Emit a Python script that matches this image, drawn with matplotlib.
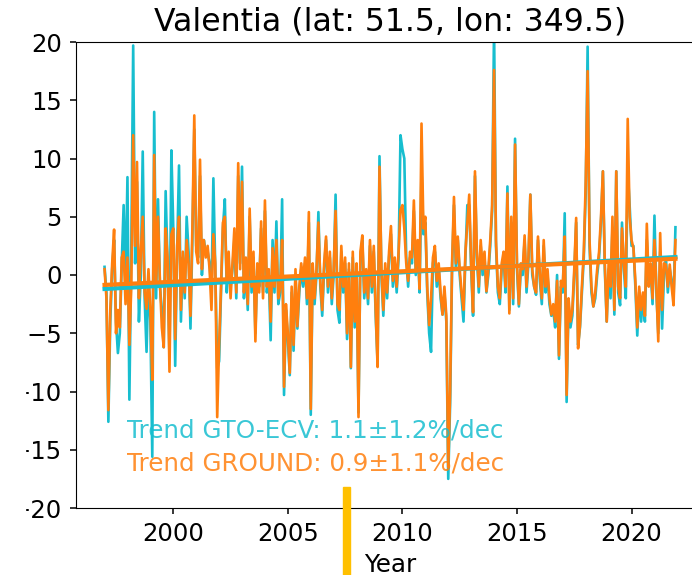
import numpy as np
import matplotlib
matplotlib.use("Agg")
import matplotlib.pyplot as plt
from matplotlib.patches import Rectangle

# monthly anomalies (%), Jan 1997 - Dec 2021, one row per year
ground = [
    0.5, -2.0, -11.6, -3.0, 1.0, 3.9, -5.0, -3.0, -4.5, 1.5, 2.0, -2.5,      # 1997
    1.5, -6.0, -1.0, 12.0, 2.5, 9.7, -2.0, 2.0, 5.0, -1.5, -2.9, 0.5,       # 1998
    -3.0, -9.0, 10.3, -1.0, 5.0, -0.5, -4.5, -6.2, 4.0, 1.5, -8.3, 3.5,     # 1999
    4.0, -5.5, 2.5, 5.0, -3.0, 2.0, -1.5, 3.0, 1.0, -3.5, 4.0, 13.7,        # 2000
    2.0, 1.0, 9.9, 0.5, 3.0, 1.5, 2.5, 0.5, -3.0, 3.5, 1.0, -12.2,          # 2001
    -6.0, -1.0, 4.5, 5.0, -0.5, 2.0, -2.0, 1.0, 4.0, -1.5, 9.6, 0.5,        # 2002
    8.0, -1.5, 1.5, -2.5, 5.7, -1.0, 2.0, -5.7, 1.0, -1.5, 4.6, -2.0,       # 2003
    6.4, -1.0, 0.5, -4.0, 2.3, -1.0, 3.0, -2.0, -1.0, 3.0, -9.6, -2.5,      # 2004
    -5.0, -8.4, -1.0, -6.0, 0.5, -4.4, -1.0, 1.0, -0.5, 1.5, -2.0, 5.4,     # 2005
    -11.5, 1.0, -2.0, 0.5, 4.5, -0.5, -3.0, 1.0, 3.3, -1.0, 2.0, -2.0,      # 2006
    0.5, 5.5, -2.5, -3.0, 2.5, -1.0, 1.5, -5.0, 1.0, -7.9, 2.0, -4.0,       # 2007
    1.0, -12.2, 2.0, 3.4, -1.5, 0.5, -2.0, 3.0, -1.0, 2.5, -3.0, -7.9,      # 2008
    9.3, 0.5, -3.0, 1.0, -1.5, 2.0, 4.2, -0.5, 1.5, -1.0, 2.0, 5.6,         # 2009
    6.0, 4.0, 1.0, -0.5, 2.0, 1.5, 6.4, 0.5, 3.0, -1.2, 13.0, 4.0,          # 2010
    5.0, -1.0, -4.3, -2.0, 1.5, 2.5, -0.5, 1.0, -1.5, -3.4, -1.0, -3.5,     # 2011
    -16.5, -10.0, 1.0, 6.7, 1.0, 3.3, 0.5, -1.5, -3.0, 2.0, 4.5, 6.9,       # 2012
    1.0, -3.2, 8.9, 2.0, -1.0, 3.0, 0.5, 2.0, -1.4, 0.5, 3.0, 6.0,          # 2013
    17.6, 3.0, -1.0, -2.0, 1.0, 2.0, -1.0, 7.0, -3.3, 5.0, -2.0, 11.2,      # 2014
    1.0, -2.5, 1.0, 0.5, 3.4, -1.0, 1.5, 6.9, 0.5, -1.0, -1.5, 3.3,         # 2015
    0.0, -2.0, 3.0, -1.0, 0.5, -2.0, -3.4, -2.5, -4.0, -0.5, -6.9, -0.5,    # 2016
    -1.0, 3.3, -10.3, -2.0, -4.0, -3.0, 0.5, 4.9, -6.3, -4.3, -1.0, 2.0,    # 2017
    8.0, 17.5, 3.0, -1.0, -2.7, -1.5, 0.5, 2.0, 5.0, 8.9, 1.0, -4.0,        # 2018
    1.0, -1.0, 5.0, -3.0, 8.9, -1.0, -2.0, 4.0, 1.0, -1.0, 13.4, 5.0,       # 2019
    3.0, 2.3, -0.5, -4.5, -1.0, -3.0, -1.5, -3.5, 4.4, -1.0, 1.0, -2.0,     # 2020
    3.0, -1.0, -5.7, 3.6, -3.0, 1.0, 0.9, -1.0, 0.9, -1.0, -2.6, 3.0,       # 2021
]
gto_ecv = [
    0.7, -1.5, -12.6, -4.0, 0.5, 3.0, -4.0, -6.7, -5.0, 1.0, 6.0, -1.0,
    8.4, -10.7, 2.0, 19.7, 1.0, 8.0, -4.0, 0.0, 10.6, -2.0, -6.6, 0.0,
    -4.0, -15.6, 14.0, -2.0, 6.5, -1.0, -3.0, -6.2, 7.2, 1.0, -7.0, 10.7,
    4.0, -7.8, 2.0, 9.4, -4.0, 1.5, -2.0, 5.0, 2.0, -4.6, 3.0, 12.5,
    2.5, 1.5, 8.5, 0.0, 3.0, 2.0, 2.0, 1.0, -1.5, 8.3, 0.5, -8.0,
    -7.4, -1.5, 4.0, 6.5, -1.5, 1.0, -1.0, 0.5, 3.0, -2.0, 8.5, 1.0,
    9.3, -2.0, 1.0, -3.0, 5.0, -1.5, 1.5, -5.0, 0.5, -1.0, 4.0, -1.5,
    5.5, -1.5, 0.0, -5.6, 3.0, -1.5, 4.6, -2.5, -1.5, 6.5, -10.3, -3.0,
    -5.5, -8.6, -1.5, -6.5, 0.0, -4.6, -1.5, 0.5, -1.0, 1.0, -2.5, 4.5,
    -12.0, 0.5, -2.5, 0.0, 5.4, -1.0, -3.5, 0.5, 3.0, -1.5, 1.5, -2.5,
    0.0, 6.9, -3.0, -4.1, 2.0, -1.5, 1.0, -5.5, 0.5, -8.0, 1.5, -4.5,
    0.5, -11.8, 1.5, 3.0, -2.0, 0.0, -2.5, 2.5, -1.5, 2.0, -3.5, -7.5,
    10.2, 0.0, -3.5, 0.5, -2.0, 1.5, 3.5, -1.0, 1.0, -1.5, 1.5, 12.0,
    10.8, 10.0, 1.5, -1.0, 1.5, 1.0, 5.5, 0.0, 2.5, -1.5, 9.0, 3.5,
    4.5, -1.5, -5.0, -6.6, 1.0, 2.0, -1.0, 0.5, -2.0, -3.4, -1.5, -4.0,
    -17.5, -11.0, 0.5, 6.0, 0.5, 3.0, 0.0, -2.0, -4.0, 1.5, 6.0, 6.0,
    0.5, -3.5, 8.5, 1.5, -1.5, 2.5, 0.0, 1.5, -1.5, 0.0, 2.5, 5.5,
    21.5, 2.5, -1.5, -2.5, 0.5, 1.5, -1.5, 7.6, -3.0, 4.5, -2.5, 11.7,
    0.5, -2.7, 0.5, 0.0, 3.0, -1.5, 1.0, 6.9, 0.0, -1.0, -1.7, 3.0,
    -0.5, -2.5, 2.5, -1.5, 0.0, -2.5, -3.5, -3.0, -4.5, 0.0, -7.2, -1.0,
    -1.5, 5.3, -10.9, -2.5, -4.5, -3.5, 0.0, 4.5, -6.0, -4.5, -1.5, 1.5,
    7.0, 19.6, 2.5, -1.5, -2.7, -2.0, 0.0, 1.5, 4.5, 8.9, 0.5, -4.0,
    0.5, -2.0, 4.0, -3.4, 8.9, -1.5, -2.6, 4.5, 0.5, -2.0, 9.0, 6.0,
    2.5, 2.5, -1.0, -5.2, -1.5, -4.0, -2.0, -4.0, 3.0, -0.5, 0.5, -2.5,
    5.1, -1.5, -5.0, 2.0, -4.6, 0.0, 1.5, -1.5, 0.5, -0.5, -2.0, 4.1,
]
start_year = 1997

# linear trends: value at start of record and slope in %/decade
trend_gto_start, trend_gto_slope = -1.2, 1.1
trend_ground_start, trend_ground_slope = -0.85, 0.9
trend_gto_err, trend_ground_err = 1.2, 1.1

years = start_year + np.arange(len(ground)) / 12.0
t_trend = np.array([years[0], years[-1]])
gto_trend = trend_gto_start + trend_gto_slope * (t_trend - start_year) / 10
ground_trend = trend_ground_start + trend_ground_slope * (t_trend - start_year) / 10

fig = plt.figure(figsize=(6.92, 5.75), dpi=100)
ax = fig.add_axes([76 / 692, 67 / 575, 628 / 692, 466 / 575])

ax.plot(years, gto_ecv, color="tab:cyan", lw=1.9)
ax.plot(years, ground, color="tab:orange", lw=1.9)
ax.plot(t_trend, gto_trend, color="tab:cyan", lw=3)
ax.plot(t_trend, ground_trend, color="tab:orange", lw=3)

ax.text(0.081, 0.152, f"Trend GTO-ECV: {trend_gto_slope}\u00b1{trend_gto_err}%/dec",
        transform=ax.transAxes, color="tab:cyan", alpha=0.85, fontsize=17.7, va="baseline")
ax.text(0.081, 0.081, f"Trend GROUND: {trend_ground_slope}\u00b1{trend_ground_err}%/dec",
        transform=ax.transAxes, color="tab:orange", alpha=0.85, fontsize=17.7, va="baseline")

ax.set_ylim(-20, 20)
ax.set_yticks(np.arange(-20, 21, 5))
ax.set_xticks([2000, 2005, 2010, 2015, 2020])
ax.tick_params(labelsize=17.5, length=4, width=1.1, pad=6.3)
ax.set_title("Valentia (lat: 51.5, lon: 349.5)", fontsize=22.7, pad=8)
ax.set_xlabel("Year", fontsize=17.7, labelpad=5)

# the original screenshot is blanked at its left edge and has a yellow marker bar
fig.patches.append(Rectangle((0, 0), 25 / 692, 1, transform=fig.transFigure,
                             color="white", zorder=10))
fig.patches.append(Rectangle((343 / 692, 0), 7 / 692, 88 / 575,
                             transform=fig.transFigure, color="#ffc000", zorder=10))

fig.savefig("out.png", dpi=100)
